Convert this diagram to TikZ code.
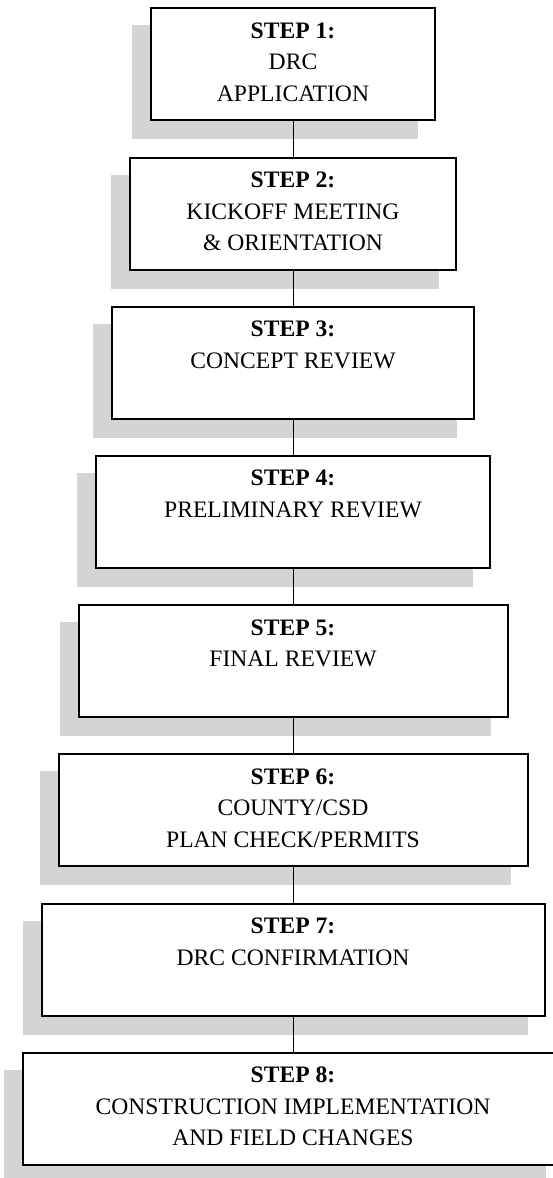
\documentclass[tikz,border=0pt]{standalone}
\usepackage{fontspec}
\setmainfont{Liberation Serif}
\usetikzlibrary{shadows}

\newcommand{\steptext}[2]{\vbox to 56pt{\hbox{\begin{tabular}{@{}c@{}}\rule{0pt}{15pt}\textbf{STEP #1:}\\#2\end{tabular}}\vss}}

\begin{document}
\begin{tikzpicture}[x=0.5pt,y=-0.5pt,
	stepbox/.style={draw, line width=1pt, fill=white, inner sep=0pt, minimum height=56pt,
		font=\fontsize{11.8}{15.75}\selectfont,
		drop shadow={shadow xshift=-9pt, shadow yshift=-9pt, fill=shadowgray, draw=shadowgray, opacity=1}},
	link/.style={line width=0.5pt}]
	\definecolor{shadowgray}{RGB}{212,212,212}
	
	\useasboundingbox (0,0) rectangle (552,1178);
	
	\node[stepbox, minimum width=142pt] (step1) at (293,64.3) {\steptext{1}{DRC\\APPLICATION}};
	\node[stepbox, minimum width=162.6pt] (step2) at (293,213.5) {\steptext{2}{KICKOFF MEETING\\\& ORIENTATION}};
	\node[stepbox, minimum width=180.7pt] (step3) at (293,362.7) {\steptext{3}{CONCEPT REVIEW}};
	\node[stepbox, minimum width=197.3pt] (step4) at (293,511.9) {\steptext{4}{PRELIMINARY REVIEW}};
	\node[stepbox, minimum width=214.5pt] (step5) at (293,661.1) {\steptext{5}{FINAL REVIEW}};
	\node[stepbox, minimum width=234.5pt] (step6) at (293,810.3) {\steptext{6}{COUNTY/CSD\\PLAN CHECK/PERMITS}};
	\node[stepbox, minimum width=251.5pt] (step7) at (293,959.5) {\steptext{7}{DRC CONFIRMATION}};
	\node[stepbox, minimum width=270pt] (step8) at (293,1108.7) {\steptext{8}{CONSTRUCTION IMPLEMENTATION\\AND FIELD CHANGES}};
	
	\draw[link] (step1) -- (step2);
	\draw[link] (step2) -- (step3);
	\draw[link] (step3) -- (step4);
	\draw[link] (step4) -- (step5);
	\draw[link] (step5) -- (step6);
	\draw[link] (step6) -- (step7);
	\draw[link] (step7) -- (step8);
	
\end{tikzpicture}
\end{document}
